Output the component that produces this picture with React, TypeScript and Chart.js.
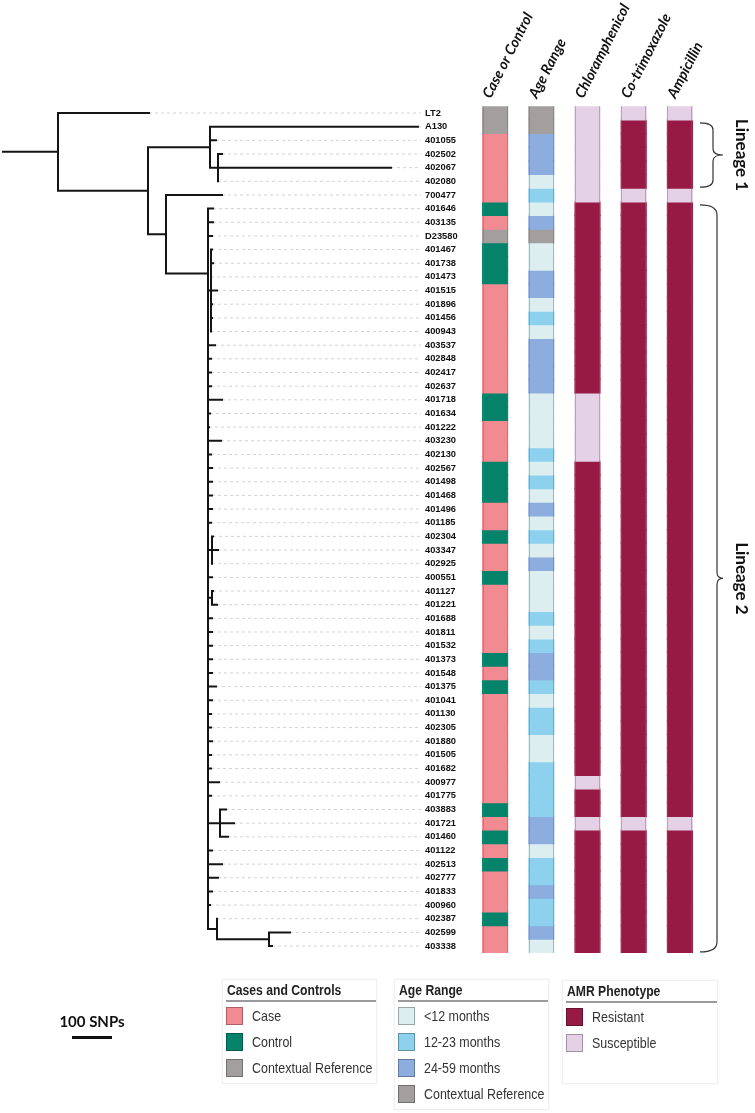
import React, { useEffect, useRef } from "react";
import { Chart, registerables } from "chart.js";

Chart.register(...registerables);

// ---------------- DATA ----------------
const sampleIds = [
  "LT2", "A130", "401055", "402502", "402067", "402080", "700477", "401646", "403135", "D23580",
  "401467", "401738", "401473", "401515", "401896", "401456", "400943", "403537", "402848", "402417",
  "402637", "401718", "401634", "401222", "403230", "402130", "402567", "401498", "401468", "401496",
  "401185", "402304", "403347", "402925", "400551", "401127", "401221", "401688", "401811", "401532",
  "401373", "401548", "401375", "401041", "401130", "402305", "401880", "401505", "401682", "400977",
  "401775", "403883", "401721", "401460", "401122", "402513", "402777", "401833", "400960", "402387",
  "402599", "403338",
];

const columnHeaders = ["Case or Control", "Age Range", "Chloramphenicol", "Co-trimoxazole", "Ampicillin"];

const caseControl = [
  "Ref", "Ref", "Case", "Case", "Case", "Case", "Case", "Ctrl", "Case", "Ref",
  "Ctrl", "Ctrl", "Ctrl", "Case", "Case", "Case", "Case", "Case", "Case", "Case",
  "Case", "Ctrl", "Ctrl", "Case", "Case", "Case", "Ctrl", "Ctrl", "Ctrl", "Case",
  "Case", "Ctrl", "Case", "Case", "Ctrl", "Case", "Case", "Case", "Case", "Case",
  "Ctrl", "Case", "Ctrl", "Case", "Case", "Case", "Case", "Case", "Case", "Case",
  "Case", "Ctrl", "Case", "Ctrl", "Case", "Ctrl", "Case", "Case", "Case", "Ctrl",
  "Case", "Case",
];

const ageRange = [
  "Ref", "Ref", "24-59", "24-59", "24-59", "<12", "12-23", "<12", "24-59", "Ref",
  "<12", "<12", "24-59", "24-59", "<12", "12-23", "<12", "24-59", "24-59", "24-59",
  "24-59", "<12", "<12", "<12", "<12", "12-23", "<12", "12-23", "<12", "24-59",
  "<12", "12-23", "<12", "24-59", "<12", "<12", "<12", "12-23", "<12", "12-23",
  "24-59", "24-59", "12-23", "<12", "12-23", "12-23", "<12", "<12", "12-23", "12-23",
  "12-23", "12-23", "24-59", "24-59", "<12", "12-23", "12-23", "24-59", "12-23", "12-23",
  "24-59", "<12",
];

const chloramphenicol = [
  "S", "S", "S", "S", "S", "S", "S", "R", "R", "R",
  "R", "R", "R", "R", "R", "R", "R", "R", "R", "R",
  "R", "S", "S", "S", "S", "S", "R", "R", "R", "R",
  "R", "R", "R", "R", "R", "R", "R", "R", "R", "R",
  "R", "R", "R", "R", "R", "R", "R", "R", "R", "S",
  "R", "R", "S", "R", "R", "R", "R", "R", "R", "R",
  "R", "R",
];

const cotrimoxazole = [
  "S", "R", "R", "R", "R", "R", "S", "R", "R", "R",
  "R", "R", "R", "R", "R", "R", "R", "R", "R", "R",
  "R", "R", "R", "R", "R", "R", "R", "R", "R", "R",
  "R", "R", "R", "R", "R", "R", "R", "R", "R", "R",
  "R", "R", "R", "R", "R", "R", "R", "R", "R", "R",
  "R", "R", "S", "R", "R", "R", "R", "R", "R", "R",
  "R", "R",
];

const ampicillin = [
  "S", "R", "R", "R", "R", "R", "S", "R", "R", "R",
  "R", "R", "R", "R", "R", "R", "R", "R", "R", "R",
  "R", "R", "R", "R", "R", "R", "R", "R", "R", "R",
  "R", "R", "R", "R", "R", "R", "R", "R", "R", "R",
  "R", "R", "R", "R", "R", "R", "R", "R", "R", "R",
  "R", "R", "S", "R", "R", "R", "R", "R", "R", "R",
  "R", "R",
];

// Phylogeny (branch lengths in SNPs)
const lineage2Ladder =
  "(403537:17.5,(402848:7.5,(402417:7.5,(402637:7.5,(401718:35,(401634:5,(401222:2.5,(403230:32.5," +
  "(402130:7.5,(402567:10,(401498:10,(401468:10,(401496:10,(401185:7.5," +
  "((402304:2.5,403347:15,402925:0):10,(400551:10,((401127:2.5,401221:12.5):10," +
  "(401688:10,(401811:10,(401532:10,(401373:10,(401548:10,(401375:20,(401041:10,(401130:7.5," +
  "(402305:7.5,(401880:10,(401505:7.5,(401682:7.5,(400977:27.5,(401775:7.5," +
  "((403883:15,401721:35,401460:20):30,(401122:10,(402513:35,(402777:25,(401833:10,(400960:5," +
  "(402387:0,(402599:52.5,403338:7.5):130):22.5" +
  "))))))))))" + "))))))))))" + "))))))))))" + ")))))))";

const treeNewick =
  "(LT2:227.5,((A130:520,401055:15,(402502:10,402067:432.5,402080:0):20):155," +
  "(700477:140,((401646:12.5,403135:12.5,D23580:10)," +
  "((401467:2.5,401738:5,401473:0,401515:15,401896:2.5,401456:2.5,400943:0):7.5," +
  lineage2Ladder +
  ")):105):45):225):140;";

const treeMaxSNPs = 1047.5;
const scaleBarSNPs = 100;

const lineages = [
  { label: "Lineage 1", from: "A130", to: "402080" },
  { label: "Lineage 2", from: "401646", to: "403338" },
];

const caseColors: Record<string, string> = { Case: "#F28B91", Ctrl: "#04826A", Ref: "#A49F9F" };
const ageColors: Record<string, string> = { "<12": "#DCEEF0", "12-23": "#8DD1EE", "24-59": "#8CADDE", Ref: "#A49F9F" };
const amrColors: Record<string, string> = { R: "#961A43", S: "#E5D1E6" };

const caseLegend = [
  { label: "Case", key: "Case" },
  { label: "Control", key: "Ctrl" },
  { label: "Contextual Reference", key: "Ref" },
];
const ageLegend = [
  { label: "<12 months", key: "<12" },
  { label: "12-23 months", key: "12-23" },
  { label: "24-59 months", key: "24-59" },
  { label: "Contextual Reference", key: "Ref" },
];
const amrLegend = [
  { label: "Resistant", key: "R" },
  { label: "Susceptible", key: "S" },
];

// ---------------- TREE HELPERS ----------------
type TNode = { name: string; len: number; children: TNode[]; x: number; y: number };

function parseNewick(s: string): TNode {
  let i = 0;
  function node(): TNode {
    const n: TNode = { name: "", len: 0, children: [], x: 0, y: 0 };
    if (s[i] === "(") {
      i++;
      n.children.push(node());
      while (s[i] === ",") {
        i++;
        n.children.push(node());
      }
      i++;
    }
    let name = "";
    while (i < s.length && !",():;".includes(s[i])) name += s[i++];
    n.name = name.trim();
    if (s[i] === ":") {
      i++;
      let num = "";
      while (i < s.length && !",();".includes(s[i])) num += s[i++];
      n.len = parseFloat(num) || 0;
    }
    return n;
  }
  return node();
}

function layoutTree(n: TNode, x0: number) {
  n.x = x0 + n.len;
  if (n.children.length === 0) {
    n.y = sampleIds.indexOf(n.name);
  } else {
    n.children.forEach((c) => layoutTree(c, n.x));
    n.y = (n.children[0].y + n.children[n.children.length - 1].y) / 2;
  }
}

type Pt = { x: number | null; y: number | null };

function buildSegments(root: TNode) {
  const edges: Pt[] = [];
  const guides: Pt[] = [];
  const gap: Pt = { x: null, y: null };
  edges.push({ x: 0, y: root.y }, { x: root.x, y: root.y }, gap);
  const walk = (n: TNode) => {
    if (n.children.length === 0) {
      guides.push({ x: n.x, y: n.y }, { x: treeMaxSNPs, y: n.y }, gap);
      return;
    }
    const first = n.children[0];
    const last = n.children[n.children.length - 1];
    edges.push({ x: n.x, y: first.y }, { x: n.x, y: last.y }, gap);
    n.children.forEach((c) => {
      if (c.x > n.x) edges.push({ x: n.x, y: c.y }, { x: c.x, y: c.y }, gap);
      walk(c);
    });
  };
  walk(root);
  return { edges, guides };
}

// ---------------- COMPONENTS ----------------
const legendFont = '"Liberation Sans", Arial, sans-serif';

function LegendBox(props: {
  left: number;
  top: number;
  width: number;
  height: number;
  title: string;
  items: { label: string; color: string }[];
}) {
  const { left, top, width, height, title, items } = props;
  return (
    <div
      style={{
        position: "absolute",
        left,
        top,
        width,
        height,
        boxSizing: "border-box",
        border: "1px solid #f0f0f0",
        boxShadow: "0 0 2px rgba(0,0,0,0.06)",
        background: "#fff",
        fontFamily: legendFont,
      }}
    >
      <div
        style={{
          position: "absolute",
          left: 3,
          right: 0,
          top: 0,
          height: 20,
          borderBottom: "2px solid #9a9a9a",
        }}
      >
        <span
          style={{
            position: "absolute",
            left: 1,
            top: 0,
            lineHeight: "20px",
            fontWeight: "bold",
            fontSize: 14,
            color: "#222",
            whiteSpace: "nowrap",
            transform: "scaleX(0.87)",
            transformOrigin: "0 0",
          }}
        >
          {title}
        </span>
      </div>
      {items.map((it, k) => (
        <div key={it.label} style={{ position: "absolute", left: 3, top: 27 + 26 * k, height: 18 }}>
          <div
            style={{
              position: "absolute",
              left: 0,
              top: 0,
              width: 17,
              height: 18,
              boxSizing: "border-box",
              background: it.color,
              border: "1px solid rgba(0,0,0,0.3)",
            }}
          />
          <span
            style={{
              position: "absolute",
              left: 26,
              top: 0,
              lineHeight: "18px",
              fontSize: 15,
              color: "#333",
              whiteSpace: "nowrap",
              transform: "scaleX(0.83)",
              transformOrigin: "0 0",
            }}
          >
            {it.label}
          </span>
        </div>
      ))}
    </div>
  );
}

export default function App() {
  const treeRef = useRef<HTMLCanvasElement>(null);
  const heatRef = useRef<HTMLCanvasElement>(null);

  useEffect(() => {
    const root = parseNewick(treeNewick);
    layoutTree(root, 0);
    const { edges, guides } = buildSegments(root);

    const scaleBarPlugin = {
      id: "scaleBar",
      afterDraw(chart: any) {
        const xs = chart.scales.x;
        const w = xs.getPixelForValue(scaleBarSNPs) - xs.getPixelForValue(0);
        const cx = 92;
        const ctx = chart.ctx;
        ctx.save();
        ctx.fillStyle = "#111";
        ctx.font = 'bold 15px Lato, "Open Sans", sans-serif';
        ctx.textAlign = "center";
        ctx.textBaseline = "middle";
        ctx.fillText(`${scaleBarSNPs} SNPs`, cx, 1022);
        ctx.fillRect(cx - w / 2, 1036, w, 3);
        ctx.restore();
      },
    };

    const treeChart = new Chart(treeRef.current as HTMLCanvasElement, {
      type: "scatter",
      data: {
        datasets: [
          {
            data: edges as any,
            showLine: true,
            borderColor: "#141414",
            borderWidth: 2,
            borderCapStyle: "square",
            pointRadius: 0,
            spanGaps: false,
          } as any,
          {
            data: guides as any,
            showLine: true,
            borderColor: "#d2d2d2",
            borderWidth: 1,
            borderDash: [3, 3],
            pointRadius: 0,
            spanGaps: false,
          } as any,
        ],
      },
      options: {
        responsive: false,
        animation: false,
        events: [],
        layout: { padding: { left: 2, right: 0, top: 106.2, bottom: 160.1 } },
        plugins: { legend: { display: false }, tooltip: { enabled: false } },
        scales: {
          x: { type: "linear", min: 0, max: treeMaxSNPs, display: false },
          y: {
            type: "linear",
            min: -0.5,
            max: 61.5,
            bounds: "data",
            reverse: true,
            position: "right",
            grid: { display: false, drawTicks: false },
            border: { display: false },
            afterBuildTicks: (s: any) => {
              s.ticks = sampleIds.map((_, i) => ({ value: i }));
            },
            afterFit: (s: any) => {
              s.width = 49;
            },
            ticks: {
              autoSkip: false,
              padding: 4,
              color: "#111",
              font: { family: '"Liberation Sans", Arial, sans-serif', size: 9.3, weight: "bold" },
              callback: (v: any) => sampleIds[Number(v)] ?? "",
            },
          } as any,
        },
      },
      plugins: [scaleBarPlugin],
    });

    const columnOutlinePlugin = {
      id: "columnOutline",
      afterDatasetsDraw(chart: any) {
        const meta = chart.getDatasetMeta(0);
        const { top, bottom } = chart.chartArea;
        const ctx = chart.ctx;
        ctx.save();
        ctx.strokeStyle = "rgba(110,110,110,0.45)";
        ctx.lineWidth = 1;
        meta.data.forEach((bar: any) => {
          const l = Math.round(bar.x - bar.width / 2) + 0.5;
          const r = Math.round(bar.x + bar.width / 2) - 0.5;
          ctx.beginPath();
          ctx.moveTo(l, top);
          ctx.lineTo(l, bottom);
          ctx.moveTo(r, top);
          ctx.lineTo(r, bottom);
          ctx.stroke();
        });
        ctx.restore();
      },
    };

    const bracketPlugin = {
      id: "lineageBrackets",
      afterDraw(chart: any) {
        const ys = chart.scales.y;
        const right = chart.chartArea.right;
        const ctx = chart.ctx;
        ctx.save();
        lineages.forEach((lin, k) => {
          const a = sampleIds.indexOf(lin.from);
          const b = sampleIds.indexOf(lin.to);
          const top = ys.getPixelForValue(a) + 3;
          const bottom = ys.getPixelForValue(b + 1) - 1;
          const mid = (top + bottom) / 2;
          const tip = right - 3;
          const spine = right + (k === 0 ? 10 : 14);
          const point = right + 20;
          const r = k === 0 ? 7 : 10;
          const r2 = 6;
          ctx.beginPath();
          ctx.moveTo(tip, top);
          ctx.quadraticCurveTo(spine, top, spine, top + r);
          ctx.lineTo(spine, mid - r2);
          ctx.quadraticCurveTo(spine, mid, point, mid);
          ctx.quadraticCurveTo(spine, mid, spine, mid + r2);
          ctx.lineTo(spine, bottom - r);
          ctx.quadraticCurveTo(spine, bottom, tip, bottom);
          ctx.strokeStyle = "#333";
          ctx.lineWidth = 1.2;
          ctx.stroke();

          ctx.save();
          ctx.translate(right + 38, mid);
          ctx.rotate(Math.PI / 2);
          ctx.fillStyle = "#111";
          ctx.font = 'bold 17px Lato, "Open Sans", sans-serif';
          ctx.textAlign = "center";
          ctx.textBaseline = "middle";
          ctx.fillText(lin.label, 0, 0);
          ctx.restore();
        });
        ctx.restore();
      },
    };

    const heatChart = new Chart(heatRef.current as HTMLCanvasElement, {
      type: "bar",
      data: {
        labels: columnHeaders,
        datasets: sampleIds.map((id, i) => ({
          label: id,
          data: columnHeaders.map(() => 1),
          backgroundColor: [
            caseColors[caseControl[i]],
            ageColors[ageRange[i]],
            amrColors[chloramphenicol[i]],
            amrColors[cotrimoxazole[i]],
            amrColors[ampicillin[i]],
          ],
          borderWidth: 0,
          inflateAmount: 0.6,
          stack: "cells",
          barPercentage: 0.54,
          categoryPercentage: 1,
        })) as any,
      },
      options: {
        responsive: false,
        animation: false,
        events: [],
        layout: { padding: { left: 2, right: 52, top: 0, bottom: 160.1 } },
        plugins: { legend: { display: false }, tooltip: { enabled: false } },
        scales: {
          x: {
            type: "category",
            position: "top",
            stacked: true,
            grid: { display: false, drawTicks: false },
            border: { display: false },
            afterFit: (s: any) => {
              s.height = 106.2;
            },
            ticks: {
              autoSkip: false,
              minRotation: 63,
              maxRotation: 63,
              padding: 5,
              labelOffset: 7,
              color: "#111",
              font: { family: 'Lato, "Open Sans", sans-serif', size: 14.5, style: "italic", weight: "bold" },
            },
          } as any,
          y: { type: "linear", stacked: true, min: 0, max: 62, reverse: true, display: false },
        },
      },
      plugins: [columnOutlinePlugin, bracketPlugin],
    });

    return () => {
      treeChart.destroy();
      heatChart.destroy();
    };
  }, []);

  return (
    <div style={{ position: "absolute", left: 0, top: 0, width: 755, height: 1113, background: "#fff", overflow: "hidden" }}>
      <canvas ref={treeRef} width={470} height={1113} style={{ position: "absolute", left: 0, top: 0 }} />
      <canvas ref={heatRef} width={285} height={1113} style={{ position: "absolute", left: 470, top: 0 }} />
      <LegendBox
        left={222}
        top={979}
        width={155}
        height={105}
        title="Cases and Controls"
        items={caseLegend.map((d) => ({ label: d.label, color: caseColors[d.key] }))}
      />
      <LegendBox
        left={394}
        top={979}
        width={155}
        height={131}
        title="Age Range"
        items={ageLegend.map((d) => ({ label: d.label, color: ageColors[d.key] }))}
      />
      <LegendBox
        left={562}
        top={980}
        width={156}
        height={104}
        title="AMR Phenotype"
        items={amrLegend.map((d) => ({ label: d.label, color: amrColors[d.key] }))}
      />
    </div>
  );
}
